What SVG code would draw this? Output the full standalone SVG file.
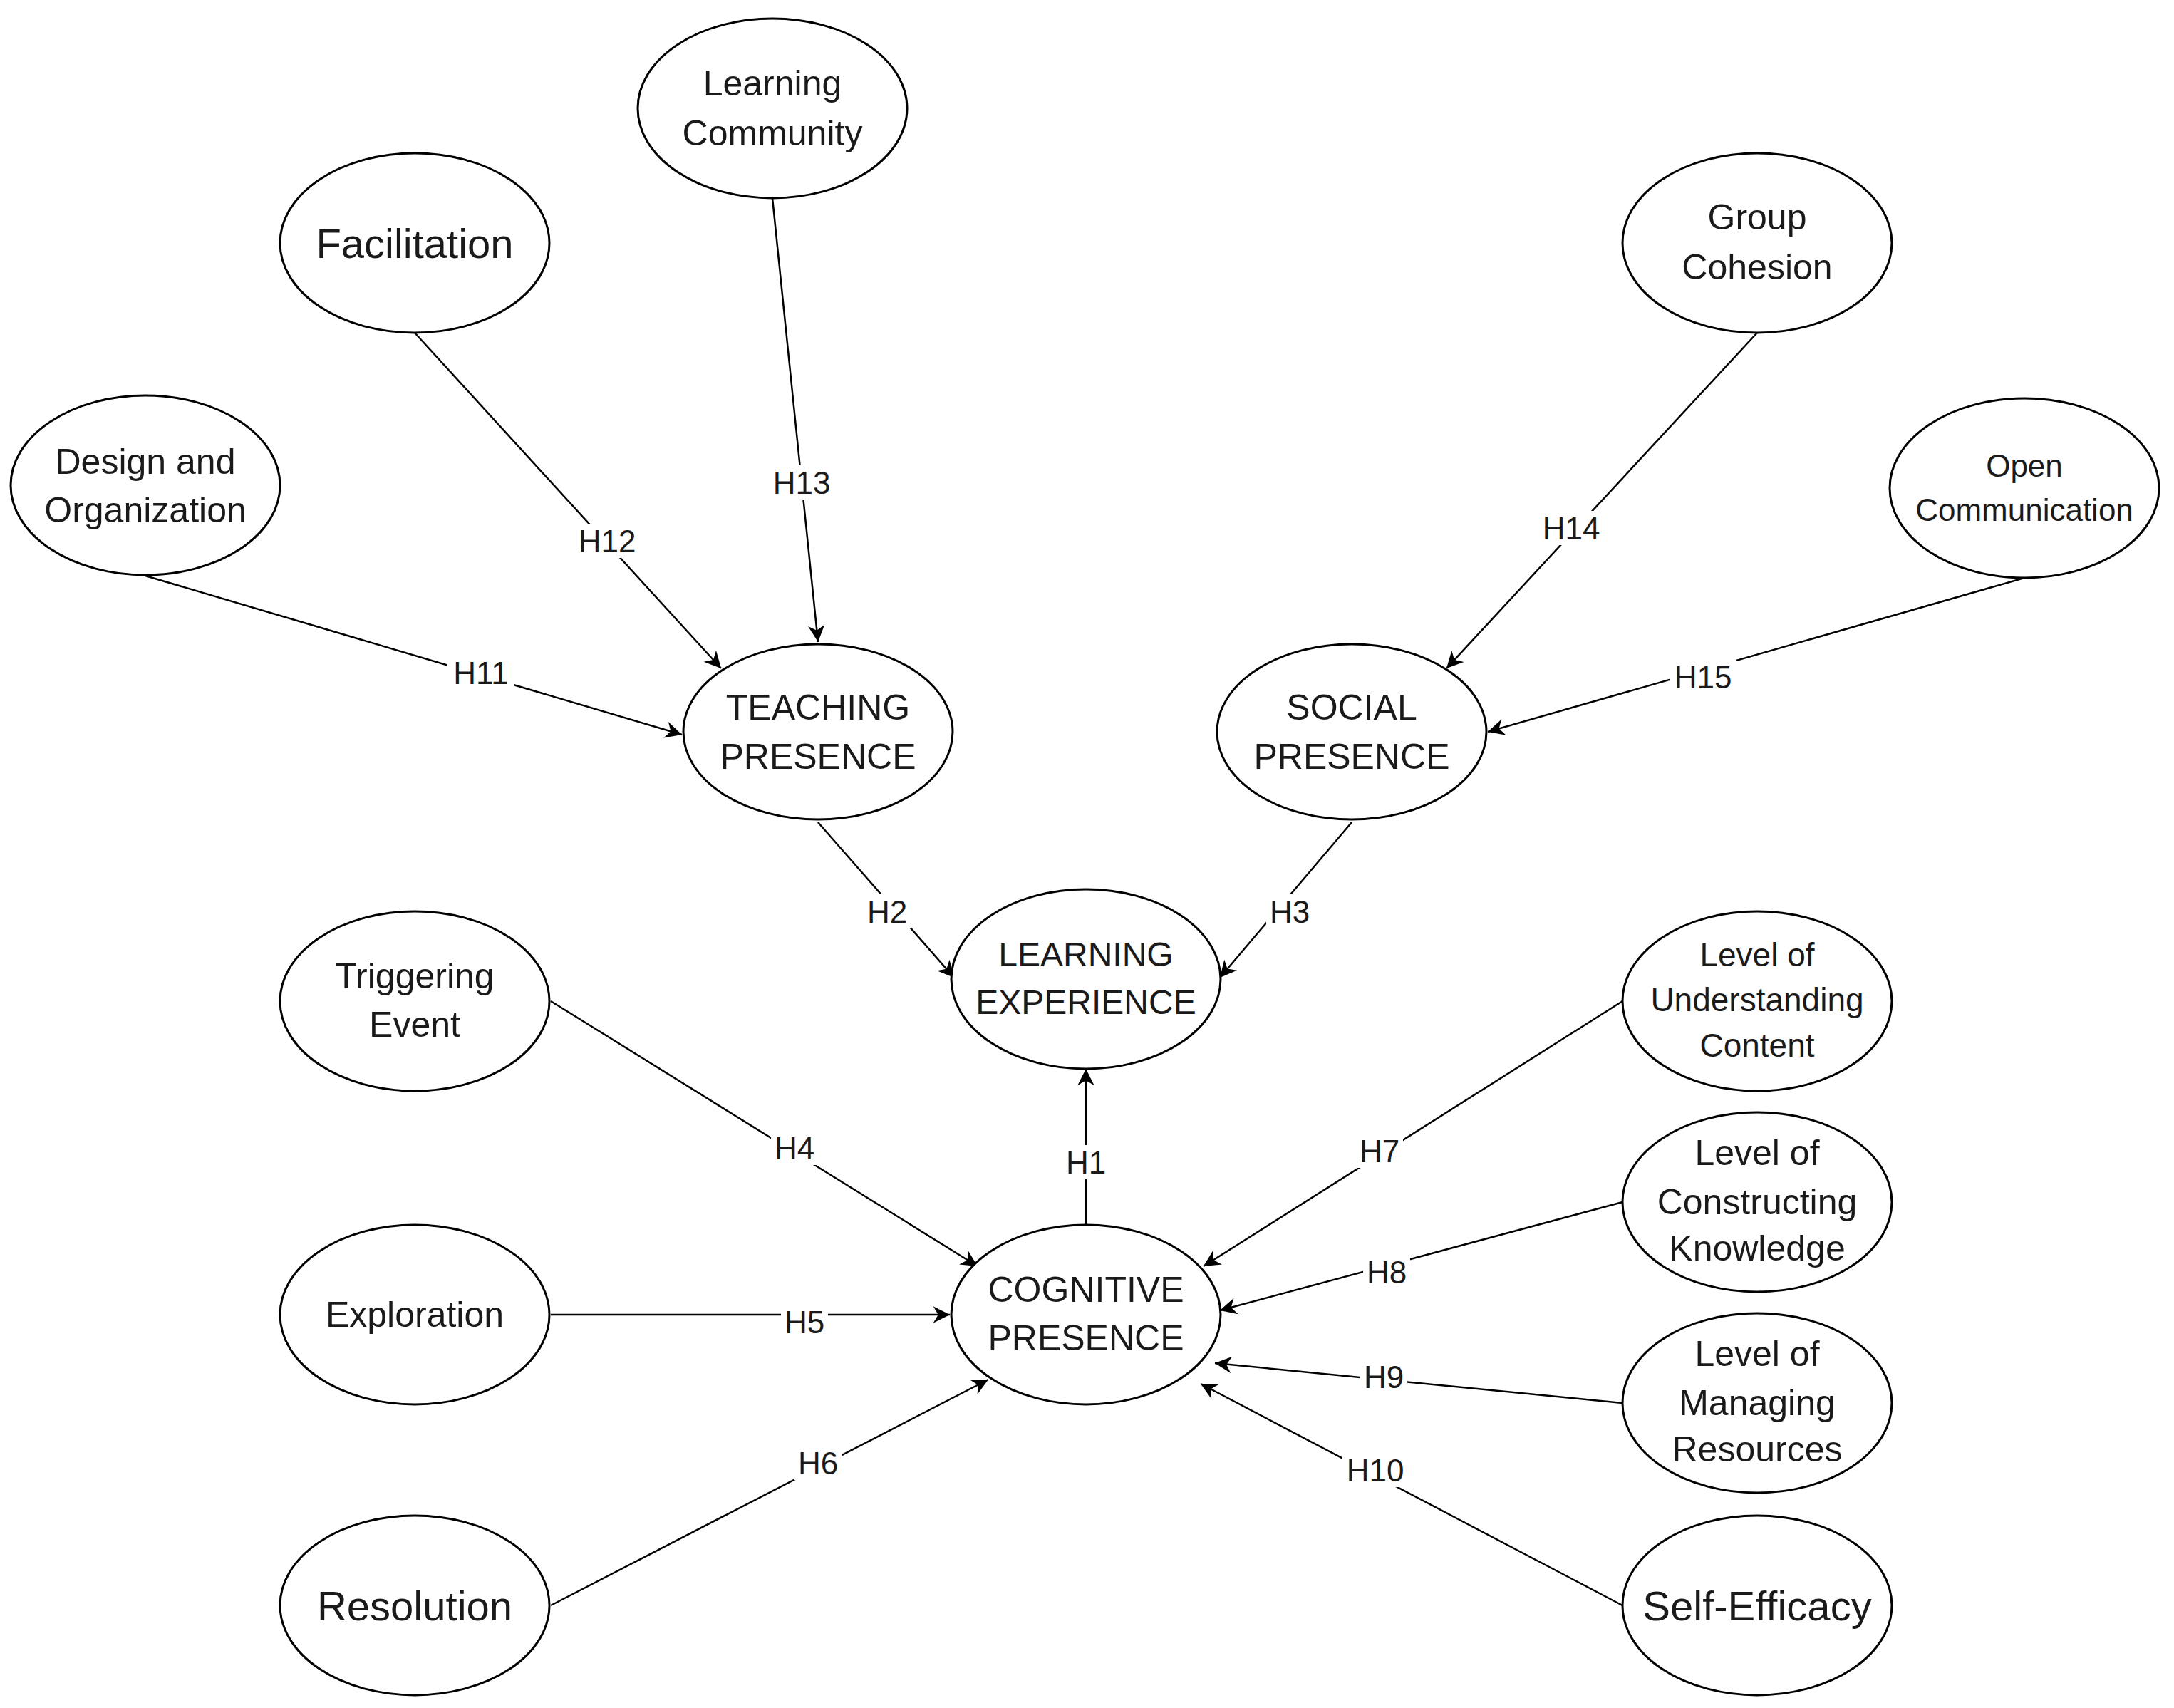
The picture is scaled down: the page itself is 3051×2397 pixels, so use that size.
<svg xmlns="http://www.w3.org/2000/svg" width="3051" height="2397" viewBox="0 0 3051 2397">
<style>
.n ellipse{fill:#fff;stroke:#000;stroke-width:3}
text{font-family:"Liberation Sans",Arial,sans-serif;fill:#1a1a1a;text-anchor:middle;dominant-baseline:central}
.t{font-size:50px}
.e line{stroke:#000;stroke-width:2.5;marker-end:url(#a)}
.e text{font-size:44px}
.e rect{fill:#fff}
</style>
<defs><marker id="a" viewBox="0 0 10 10" refX="9" refY="5" markerWidth="9" markerHeight="9" orient="auto" markerUnits="userSpaceOnUse" style="overflow:visible"><path d="M0,0 L10,5 L0,10 L3,5 Z" fill="#000" transform="scale(2.6) translate(-6.5,-3.1)"/></marker></defs>
<g class="e">
<line x1="204" y1="808" x2="957" y2="1031"/><rect x="628" y="920" width="94" height="48"/><text x="675" y="944">H11</text>
<line x1="582" y1="467" x2="1012" y2="938"/><rect x="805" y="735" width="94" height="48"/><text x="852" y="759">H12</text>
<line x1="1084" y1="278" x2="1148" y2="901"/><rect x="1078" y="653" width="94" height="48"/><text x="1125" y="677">H13</text>
<line x1="2466" y1="467" x2="2030" y2="938"/><rect x="2158" y="717" width="94" height="48"/><text x="2205" y="741">H14</text>
<line x1="2841" y1="811" x2="2088" y2="1027"/><rect x="2343" y="926" width="94" height="48"/><text x="2390" y="950">H15</text>
<line x1="1148" y1="1154" x2="1339" y2="1372"/><rect x="1212" y="1255" width="66" height="48"/><text x="1245" y="1279">H2</text>
<line x1="1897" y1="1154" x2="1712" y2="1372"/><rect x="1777" y="1255" width="66" height="48"/><text x="1810" y="1279">H3</text>
<line x1="1524" y1="1718" x2="1524" y2="1500"/><rect x="1491" y="1607" width="66" height="48"/><text x="1524" y="1631">H1</text>
<line x1="773" y1="1405" x2="1372" y2="1777"/><rect x="1082" y="1587" width="66" height="48"/><text x="1115" y="1611">H4</text>
<line x1="773" y1="1845" x2="1333" y2="1845"/><rect x="1096" y="1831" width="66" height="48"/><text x="1129" y="1855">H5</text>
<line x1="773" y1="2253" x2="1387" y2="1936"/><rect x="1115" y="2029" width="66" height="48"/><text x="1148" y="2053">H6</text>
<line x1="2277" y1="1405" x2="1689" y2="1777"/><rect x="1903" y="1591" width="66" height="48"/><text x="1936" y="1615">H7</text>
<line x1="2277" y1="1687" x2="1712" y2="1839"/><rect x="1913" y="1761" width="66" height="48"/><text x="1946" y="1785">H8</text>
<line x1="2277" y1="1969" x2="1705" y2="1913"/><rect x="1909" y="1908" width="66" height="48"/><text x="1942" y="1932">H9</text>
<line x1="2277" y1="2253" x2="1685" y2="1942"/><rect x="1883" y="2039" width="94" height="48"/><text x="1930" y="2063">H10</text>
</g>
<g id="lc" class="n"><ellipse cx="1084" cy="152" rx="189" ry="126"/><text class="t" x="1084" y="117">Learning</text><text class="t" x="1084" y="187">Community</text></g>
<g id="fac" class="n"><ellipse cx="582" cy="341" rx="189" ry="126"/><text x="582" y="341" font-size="58">Facilitation</text></g>
<g id="des" class="n"><ellipse cx="204" cy="681" rx="189" ry="126"/><text class="t" x="204" y="648">Design and</text><text class="t" x="204" y="716">Organization</text></g>
<g id="gc" class="n"><ellipse cx="2466" cy="341" rx="189" ry="126"/><text class="t" x="2466" y="305">Group</text><text class="t" x="2466" y="375">Cohesion</text></g>
<g id="oc" class="n"><ellipse cx="2841" cy="685" rx="189" ry="126"/><text x="2841" y="653" font-size="44">Open</text><text x="2841" y="715" font-size="44">Communication</text></g>
<g id="tp" class="n"><ellipse cx="1148" cy="1027" rx="189" ry="123"/><text class="t" x="1148" y="993">TEACHING</text><text class="t" x="1148" y="1062">PRESENCE</text></g>
<g id="sp" class="n"><ellipse cx="1897" cy="1027" rx="189" ry="123"/><text class="t" x="1897" y="993">SOCIAL</text><text class="t" x="1897" y="1062">PRESENCE</text></g>
<g id="le" class="n"><ellipse cx="1524" cy="1374" rx="189" ry="126"/><text x="1524" y="1339" font-size="48">LEARNING</text><text x="1524" y="1406" font-size="48">EXPERIENCE</text></g>
<g id="cp" class="n"><ellipse cx="1524" cy="1845" rx="189" ry="126"/><text class="t" x="1524" y="1810">COGNITIVE</text><text class="t" x="1524" y="1878">PRESENCE</text></g>
<g id="te" class="n"><ellipse cx="582" cy="1405" rx="189" ry="126"/><text class="t" x="582" y="1370">Triggering</text><text class="t" x="582" y="1438">Event</text></g>
<g id="ex" class="n"><ellipse cx="582" cy="1845" rx="189" ry="126"/><text class="t" x="582" y="1845">Exploration</text></g>
<g id="res" class="n"><ellipse cx="582" cy="2253" rx="189" ry="126"/><text x="582" y="2253" font-size="58">Resolution</text></g>
<g id="luc" class="n"><ellipse cx="2466" cy="1405" rx="189" ry="126"/><text x="2466" y="1340" font-size="46">Level of</text><text x="2466" y="1403" font-size="46">Understanding</text><text x="2466" y="1467" font-size="46">Content</text></g>
<g id="lck" class="n"><ellipse cx="2466" cy="1687" rx="189" ry="126"/><text class="t" x="2466" y="1618">Level of</text><text class="t" x="2466" y="1687">Constructing</text><text class="t" x="2466" y="1752">Knowledge</text></g>
<g id="lmr" class="n"><ellipse cx="2466" cy="1969" rx="189" ry="126"/><text class="t" x="2466" y="1900">Level of</text><text class="t" x="2466" y="1969">Managing</text><text class="t" x="2466" y="2034">Resources</text></g>
<g id="se" class="n"><ellipse cx="2466" cy="2253" rx="189" ry="126"/><text x="2466" y="2253" font-size="58">Self-Efficacy</text></g>
</svg>
